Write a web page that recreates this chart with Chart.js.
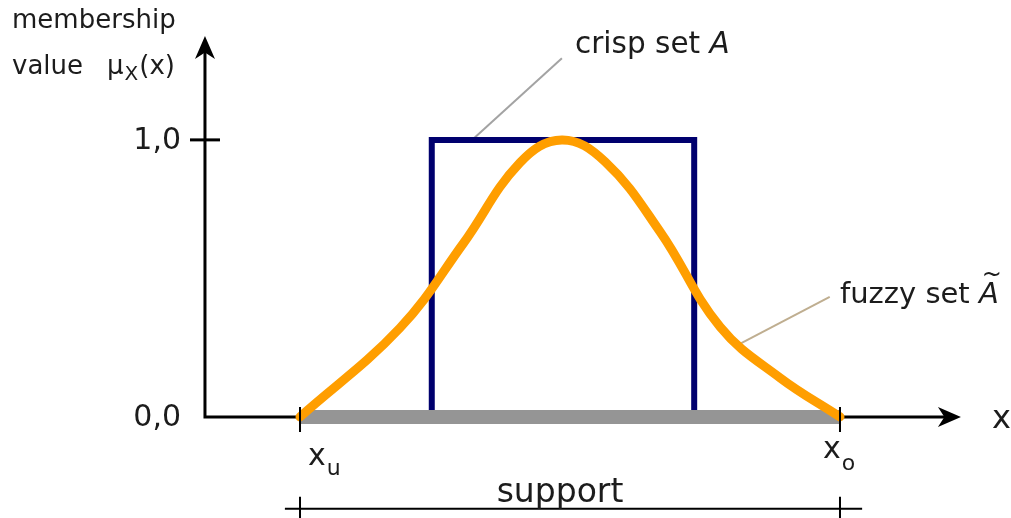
<!DOCTYPE html>
<html>
<head>
<title>Crisp set vs fuzzy set</title>
<script src="https://cdn.jsdelivr.net/npm/chart.js@4.4.0/dist/chart.umd.min.js"></script>
<style>
  body { margin: 0; background: #fff; }
  canvas { display: block; }
</style>
</head>
<body>
<canvas id="chart" width="1011" height="518"></canvas>
<script>
// x is measured so that x_u = 0 and x_o = 10, y is the membership value (0..1)
const fuzzyX = [0, 1.85, 3.02, 4.07, 4.85, 5.65, 6.67, 7.78, 8.89, 10];
const fuzzyY = [0, 0.321, 0.625, 0.917, 1.0, 0.921, 0.668, 0.325, 0.141, 0];

const crispX = [2.44, 2.44, 7.30, 7.30];
const crispY = [0, 1, 1, 0];

const supportX = [0, 10];   // x_u, x_o
const supportY = [0, 0];

const yTickValues = [0, 1];
const yTickLabels = ['0,0', '1,0'];
const xTickLabels = [['x', 'u'], ['x', 'o']];

function toPoints(xs, ys) {
    return xs.map(function (x, i) { return { x: x, y: ys[i] }; });
}

const FONT = '"DejaVu Sans", Verdana, sans-serif';

// axis frame position in data units
const axisX = -1.76;
const axisTop = 1.375;
const axisRight = 12.24;

function arrowHead(ctx, x, y, ang) {
    const len = 23, w = 10;
    ctx.save();
    ctx.translate(x, y);
    ctx.rotate(ang);
    ctx.beginPath();
    ctx.moveTo(0, 0);
    ctx.lineTo(-len, -w);
    ctx.lineTo(-len * 0.72, 0);
    ctx.lineTo(-len, w);
    ctx.closePath();
    ctx.fill();
    ctx.restore();
}

// draws "main" + subscript, starting at x (left) on baseline y
function subText(ctx, main, sub, x, y, size, subSize, drop) {
    ctx.textAlign = 'left';
    ctx.font = size + 'px ' + FONT;
    ctx.fillText(main, x, y);
    const w = ctx.measureText(main).width;
    ctx.font = subSize + 'px ' + FONT;
    ctx.fillText(sub, x + w + 1, y + drop);
    return x + w + 1 + ctx.measureText(sub).width;
}

const diagramPlugin = {
    id: 'diagram',
    beforeDatasetsDraw: function (chart) {
        const ctx = chart.ctx;
        const sx = chart.scales.x, sy = chart.scales.y;
        const ox = sx.getPixelForValue(axisX), oy = sy.getPixelForValue(0);
        const top = sy.getPixelForValue(axisTop), right = sx.getPixelForValue(axisRight);
        ctx.save();
        ctx.strokeStyle = '#000';
        ctx.fillStyle = '#000';
        ctx.lineWidth = 3;
        ctx.lineJoin = 'miter';
        ctx.beginPath();
        ctx.moveTo(ox, top + 12);
        ctx.lineTo(ox, oy);
        ctx.lineTo(right - 12, oy);
        ctx.stroke();
        arrowHead(ctx, ox, top, -Math.PI / 2);
        arrowHead(ctx, right, oy, 0);

        // tick at 1,0
        const y1 = sy.getPixelForValue(1);
        ctx.beginPath();
        ctx.moveTo(ox - 15, y1);
        ctx.lineTo(ox + 15, y1);
        ctx.stroke();

        // leader lines
        ctx.lineWidth = 2;
        ctx.strokeStyle = '#a3a3a3';
        ctx.beginPath();
        ctx.moveTo(sx.getPixelForValue(3.15), sy.getPixelForValue(0.993));
        ctx.lineTo(sx.getPixelForValue(4.85), sy.getPixelForValue(1.295));
        ctx.stroke();
        ctx.strokeStyle = '#bfae90';
        ctx.beginPath();
        ctx.moveTo(sx.getPixelForValue(8.11), sy.getPixelForValue(0.26));
        ctx.lineTo(sx.getPixelForValue(9.81), sy.getPixelForValue(0.433));
        ctx.stroke();
        ctx.restore();
    },
    afterDatasetsDraw: function (chart) {
        const ctx = chart.ctx;
        const sx = chart.scales.x, sy = chart.scales.y;
        const oy = sy.getPixelForValue(0);
        ctx.save();
        ctx.strokeStyle = '#000';
        ctx.fillStyle = '#000';
        ctx.lineWidth = 2;

        // ticks at x_u and x_o, and the support bracket
        const ys = sy.getPixelForValue(-0.332);
        supportX.forEach(function (v) {
            const p = sx.getPixelForValue(v);
            ctx.beginPath();
            ctx.moveTo(p, oy - 10);
            ctx.lineTo(p, oy + 15);
            ctx.moveTo(p, ys - 12);
            ctx.lineTo(p, ys + 10);
            ctx.stroke();
        });
        ctx.beginPath();
        ctx.moveTo(sx.getPixelForValue(-0.28), ys);
        ctx.lineTo(sx.getPixelForValue(10.41), ys);
        ctx.stroke();

        ctx.fillStyle = '#1c1c1c';

        // y tick labels
        ctx.font = '30px ' + FONT;
        ctx.textAlign = 'right';
        ctx.textBaseline = 'middle';
        yTickValues.forEach(function (v, i) {
            ctx.fillText(yTickLabels[i], sx.getPixelForValue(-2.204), sy.getPixelForValue(v) + 1);
        });
        ctx.textBaseline = 'alphabetic';

        // y axis title
        const tl = sx.getPixelForValue(-5.333);
        ctx.textAlign = 'left';
        ctx.font = '26px ' + FONT;
        ctx.fillText('membership', tl, sy.getPixelForValue(1.404));
        ctx.fillText('value', tl, sy.getPixelForValue(1.238));
        let ex = subText(ctx, '\u03bc', 'X', sx.getPixelForValue(-3.574), sy.getPixelForValue(1.238), 26, 20, 6);
        ctx.font = '26px ' + FONT;
        ctx.fillText('(x)', ex + 1, sy.getPixelForValue(1.238));

        // x axis title
        ctx.font = '32px ' + FONT;
        ctx.fillText('x', sx.getPixelForValue(12.815), sy.getPixelForValue(-0.040));

        // x_u, x_o
        subText(ctx, xTickLabels[0][0], xTickLabels[0][1], sx.getPixelForValue(0.148), sy.getPixelForValue(-0.173), 30, 22, 10);
        subText(ctx, xTickLabels[1][0], xTickLabels[1][1], sx.getPixelForValue(9.685), sy.getPixelForValue(-0.148), 30, 22, 12);

        // support
        ctx.font = '33px ' + FONT;
        ctx.textAlign = 'center';
        ctx.fillText('support', sx.getPixelForValue(4.815), sy.getPixelForValue(-0.307));

        // set names
        ctx.textAlign = 'left';
        ctx.font = '29.5px ' + FONT;
        let cx = sx.getPixelForValue(5.093), cy = sy.getPixelForValue(1.314);
        ctx.fillText('crisp set ', cx, cy);
        let w = ctx.measureText('crisp set ').width;
        ctx.font = 'italic 29.5px ' + FONT;
        ctx.fillText('A', cx + w, cy);

        ctx.font = '29px ' + FONT;
        let fx = sx.getPixelForValue(10.0), fy = sy.getPixelForValue(0.412);
        ctx.fillText('fuzzy set ', fx, fy);
        w = ctx.measureText('fuzzy set ').width;
        ctx.font = 'italic 29px ' + FONT;
        ctx.fillText('A', fx + w, fy);
        const aw = ctx.measureText('A').width;
        ctx.font = 'italic 24px ' + FONT;
        ctx.textAlign = 'center';
        ctx.fillText('~', fx + w + aw / 2 + 3, fy - 21);
        ctx.restore();
    }
};

new Chart(document.getElementById('chart').getContext('2d'), {
    type: 'line',
    data: {
        datasets: [
            {
                label: 'fuzzy set',
                data: toPoints(fuzzyX, fuzzyY),
                borderColor: '#ff9e00',
                borderWidth: 9,
                borderCapStyle: 'round',
                borderJoinStyle: 'round',
                tension: 0.4,
                pointRadius: 0,
                fill: false,
                order: 0
            },
            {
                label: 'support',
                data: toPoints(supportX, supportY),
                borderColor: '#959595',
                borderWidth: 14,
                borderCapStyle: 'butt',
                pointRadius: 0,
                fill: false,
                order: 1
            },
            {
                label: 'crisp set',
                data: toPoints(crispX, crispY),
                borderColor: '#00006e',
                borderWidth: 6,
                borderJoinStyle: 'miter',
                tension: 0,
                pointRadius: 0,
                fill: false,
                order: 2
            }
        ]
    },
    options: {
        responsive: false,
        animation: false,
        layout: { padding: 0 },
        plugins: {
            legend: { display: false },
            tooltip: { enabled: false }
        },
        scales: {
            x: { type: 'linear', min: -5.556, max: 13.167, display: false },
            y: { type: 'linear', min: -0.365, max: 1.505, display: false }
        }
    },
    plugins: [diagramPlugin]
});
</script>
</body>
</html>
